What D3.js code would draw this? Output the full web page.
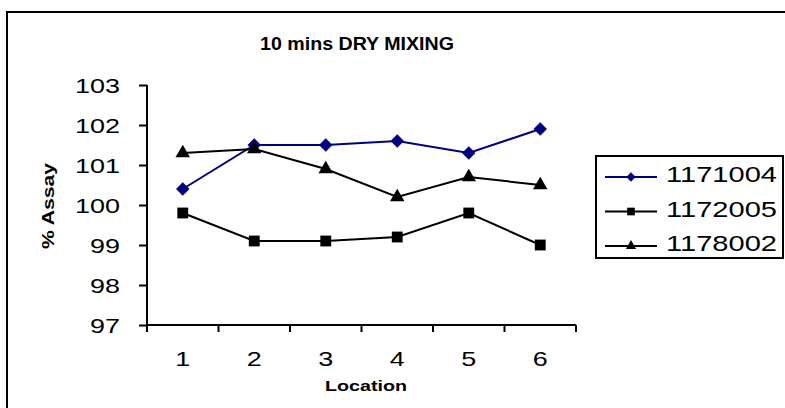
<!DOCTYPE html>
<html>
<head>
<meta charset="utf-8">
<script src="https://cdn.jsdelivr.net/npm/d3@7"></script>
<style>
  html, body { margin: 0; padding: 0; background: #fff; }
  svg { display: block; font-family: "Liberation Sans", Arial, sans-serif; }
</style>
</head>
<body>
<svg id="chart" width="785" height="408"></svg>
<script>
// Assay results per sampling location
const locations = ["1", "2", "3", "4", "5", "6"];
const batch1171004 = [100.4, 101.5, 101.5, 101.6, 101.3, 101.9];
const batch1172005 = [99.8, 99.1, 99.1, 99.2, 99.8, 99.0];
const batch1178002 = [101.3, 101.4, 100.9, 100.2, 100.7, 100.5];
const seriesNames = ["1171004", "1172005", "1178002"];
const yTicks = [97, 98, 99, 100, 101, 102, 103];

const series = [
  { name: seriesNames[0], values: batch1171004, color: "#000080", symbol: d3.symbolDiamond2, size: 115, legendSize: 55 },
  { name: seriesNames[1], values: batch1172005, color: "#000000", symbol: d3.symbolSquare2, size: 150, legendSize: 75 },
  { name: seriesNames[2], values: batch1178002, color: "#000000", symbol: d3.symbolTriangle2, size: 150, legendSize: 75 }
];

const svg = d3.select("#chart");

// outer chart frame (continues past the right and bottom edges)
svg.append("rect")
  .attr("x", 7).attr("y", 12).attr("width", 800).attr("height", 420)
  .attr("fill", "none").attr("stroke", "#000").attr("stroke-width", 2);

const plot = { left: 147, right: 576, top: 85, bottom: 325 };

const x = d3.scaleBand().domain(locations).range([plot.left, plot.right]);
const y = d3.scaleLinear().domain([97, 103]).range([plot.bottom, plot.top]);
const cx = d => x(d) + x.bandwidth() / 2;

// title
svg.append("text")
  .attr("x", 357).attr("y", 50)
  .attr("text-anchor", "middle")
  .attr("font-size", 19).attr("font-weight", "bold")
  .attr("textLength", 194).attr("lengthAdjust", "spacingAndGlyphs")
  .text("10 mins DRY MIXING");

// y axis
const yAxis = svg.append("g")
  .attr("transform", `translate(${plot.left},0)`)
  .call(d3.axisLeft(y).tickValues(yTicks).tickSize(8).tickPadding(0).tickFormat(d3.format("d")));
yAxis.select(".domain").attr("stroke-width", 2).attr("d", `M0,${plot.top}V${plot.bottom}`);
yAxis.selectAll(".tick line").attr("stroke-width", 2);
yAxis.selectAll(".tick text")
  .attr("x", -27).attr("dy", "0.36em")
  .attr("font-size", 21).attr("fill", "#000")
  .attr("font-family", "Liberation Sans, Arial, sans-serif")
  .each(function (d) {
    d3.select(this).attr("textLength", String(d).length * 15).attr("lengthAdjust", "spacingAndGlyphs");
  });

// x axis with ticks on the category boundaries
const xAxis = svg.append("g").attr("transform", `translate(0,${plot.bottom})`);
xAxis.append("line")
  .attr("x1", plot.left).attr("x2", plot.right)
  .attr("stroke", "#000").attr("stroke-width", 2);
const bounds = locations.map(d => x(d)).concat([plot.right]);
xAxis.selectAll("line.bound").data(bounds).join("line")
  .attr("class", "bound")
  .attr("x1", d => d).attr("x2", d => d)
  .attr("y1", 0).attr("y2", 7)
  .attr("stroke", "#000").attr("stroke-width", 2);
xAxis.selectAll("text").data(locations).join("text")
  .attr("x", cx).attr("y", 41)
  .attr("text-anchor", "middle")
  .attr("font-size", 21)
  .attr("textLength", 15).attr("lengthAdjust", "spacingAndGlyphs")
  .text(d => d);

// axis titles
svg.append("text")
  .attr("x", 366).attr("y", 391)
  .attr("text-anchor", "middle")
  .attr("font-size", 15).attr("font-weight", "bold")
  .attr("textLength", 82).attr("lengthAdjust", "spacingAndGlyphs")
  .text("Location");
svg.append("text")
  .attr("transform", "translate(54,206) rotate(-90)")
  .attr("text-anchor", "middle")
  .attr("font-size", 16).attr("font-weight", "bold")
  .attr("textLength", 86).attr("lengthAdjust", "spacingAndGlyphs")
  .text("% Assay");

// series lines and markers
const line = d3.line().x((v, i) => cx(locations[i])).y(v => y(v));
series.forEach(s => {
  svg.append("path")
    .attr("d", line(s.values))
    .attr("fill", "none").attr("stroke", s.color).attr("stroke-width", 2);
  svg.selectAll(null).data(s.values).join("path")
    .attr("transform", (v, i) => `translate(${cx(locations[i])},${y(v)})`)
    .attr("d", d3.symbol().type(s.symbol).size(s.size))
    .attr("fill", s.color);
});

// legend
const legend = svg.append("g");
legend.append("rect")
  .attr("x", 596).attr("y", 156).attr("width", 187).attr("height", 102)
  .attr("fill", "#fff").attr("stroke", "#000").attr("stroke-width", 2);
series.forEach((s, i) => {
  const ly = 177 + i * 34.5;
  legend.append("line")
    .attr("x1", 605).attr("x2", 657).attr("y1", ly).attr("y2", ly)
    .attr("stroke", s.color).attr("stroke-width", 2);
  legend.append("path")
    .attr("transform", `translate(631,${ly})`)
    .attr("d", d3.symbol().type(s.symbol).size(s.legendSize))
    .attr("fill", s.color);
  legend.append("text")
    .attr("x", 666).attr("y", ly + 5)
    .attr("font-size", 22)
    .attr("textLength", 111).attr("lengthAdjust", "spacingAndGlyphs")
    .text(s.name);
});
</script>
</body>
</html>
